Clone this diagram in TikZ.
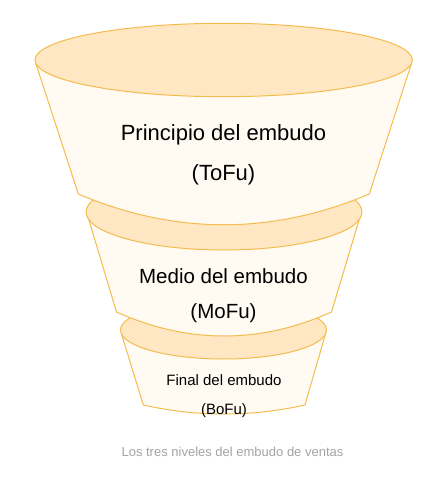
\documentclass[tikz,border=0pt]{standalone}
\usepackage{fontspec}
\setmainfont{Liberation Sans}
\usepackage{tikz}
\usetikzlibrary{positioning}

\definecolor{rim}{HTML}{F4BC4E}
\definecolor{lid}{HTML}{FFE7C3}
\definecolor{cup}{HTML}{FFFAF2}
\definecolor{note}{HTML}{A3A3A3}

\begin{document}
\begin{tikzpicture}[x=1pt,y=-1pt,
    body/.style={fill=cup,draw=rim,line width=1pt,line join=round},
    top/.style={fill=lid,draw=rim,line width=1pt},
    label/.style={anchor=base,inner sep=0pt,text=black}]
\useasboundingbox (0,0) rectangle (434,499);

% final del embudo
\fill[cup] (120.5,330) -- (143.3,405) .. controls (197.1,417) and (250.9,417) .. (305,405)
    -- (326.5,330) arc[start angle=0,end angle=180,x radius=103,y radius=29];
\draw[body,fill=none] (121.5,334) -- (143.3,405) .. controls (197.1,417) and (250.9,417) .. (305,405) -- (325.5,334);
\draw[top] (223.5,330) ellipse[x radius=103,y radius=29];

% medio del embudo
\fill[cup] (86,212) -- (116.5,312) .. controls (188.5,344) and (260,344) .. (331.5,312)
    -- (362,212) arc[start angle=0,end angle=180,x radius=138,y radius=38];
\draw[body,fill=none] (88,217) -- (116.5,312) .. controls (188.5,344) and (260,344) .. (331.5,312) -- (360,217);
\draw[top] (224,212) ellipse[x radius=138,y radius=38];

% principio del embudo
\fill[cup] (35,60) -- (78.3,194) .. controls (175.3,235) and (272.3,235) .. (369.3,194)
    -- (412.3,60) arc[start angle=0,end angle=180,x radius=188.7,y radius=36.7];
\draw[body,fill=none] (36,64) -- (78.3,194) .. controls (175.3,235) and (272.3,235) .. (369.3,194) -- (411.3,64);
\draw[top] (223.7,60) ellipse[x radius=188.7,y radius=36.7];

% textos
\node[label,font=\fontsize{22}{26}\selectfont] (tofu) at (223.5,140) {Principio del embudo};
\node[label,font=\fontsize{22}{26}\selectfont] (tofuabbr) at (223.5,180) {(ToFu)};
\node[label,font=\fontsize{20.5}{24}\selectfont] (mofu) at (223.5,283) {Medio del embudo};
\node[label,font=\fontsize{20.5}{24}\selectfont] (mofuabbr) at (223.5,318) {(MoFu)};
\node[label,font=\fontsize{15}{18}\selectfont] (bofu) at (224,385) {Final del embudo};
\node[label,font=\fontsize{15}{18}\selectfont] (bofuabbr) at (224,414) {(BoFu)};
\node[label,text=note,font=\fontsize{13}{16}\selectfont] (caption) at (232.5,456) {Los tres niveles del embudo de ventas};
\end{tikzpicture}
\end{document}
